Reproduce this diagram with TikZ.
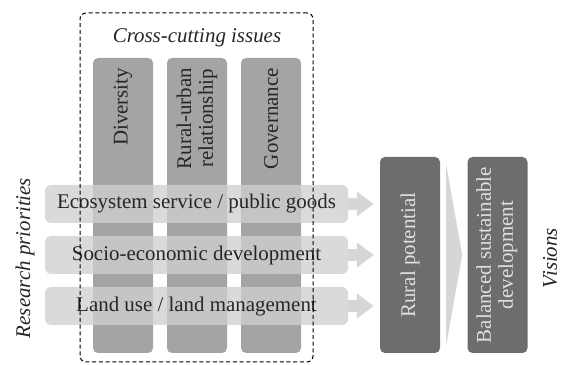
\documentclass[tikz,border=0pt]{standalone}
\usepackage{fontspec}
\setmainfont{Liberation Serif}
\usetikzlibrary{positioning,arrows.meta}
\definecolor{colgray}{RGB}{164,164,167}
\definecolor{bargray}{RGB}{207,207,209}
\definecolor{arrgray}{RGB}{214,214,216}
\definecolor{darkbox}{RGB}{109,109,112}
\definecolor{txtgray}{RGB}{38,38,38}
\tikzset{
  bigfont/.style={font=\fontsize{21}{22}\selectfont},
  crossbox/.style={draw=black,line width=1bp,dash pattern=on 4bp off 2.7bp,rounded corners=6bp,minimum width=233bp,minimum height=349bp,inner sep=0pt},
  issue/.style={fill=colgray,rounded corners=5bp,minimum width=60bp,minimum height=295bp,inner sep=0pt},
  issuetext/.style={bigfont,text=txtgray,rotate=90,anchor=east,align=center,inner sep=0pt},
  priority/.style={bigfont,fill=bargray,fill opacity=0.77,text opacity=1,text=txtgray,rounded corners=6bp,minimum width=303bp,minimum height=38bp,inner sep=0pt},
  vision/.style={bigfont,fill=darkbox,text=white!88!black,rounded corners=5bp,minimum width=60bp,minimum height=196bp,inner sep=0pt,align=center},
  sidetext/.style={bigfont,text=txtgray,rotate=90},
  flow/.style={draw=arrgray,line width=12bp,-{Triangle[width=24bp,length=17bp]}},
}
\begin{document}
\begin{tikzpicture}
\useasboundingbox (0bp,0bp) rectangle (563bp,365bp);
%%
  \node (Div) at (123bp,159.5bp) [issue] {};
  \node (RUR) at (197bp,159.5bp) [issue] {};
  \node (Gov) at (271bp,159.5bp) [issue] {};
  \node (Divtext) at ([yshift=-10bp]Div.north) [issuetext] {Diversity};
  \node (RURtext) at ([yshift=-10bp]RUR.north) [issuetext] {Rural-urban\\relationship};
  \node (Govtext) at ([yshift=-10bp]Gov.north) [issuetext] {Governance};
  \node (Eco) at (196.5bp,161bp) [priority] {Ecosystem service / public goods};
  \node (Socio) at (196.5bp,110bp) [priority] {Socio-economic development};
  \node (Land) at (196.5bp,59bp) [priority] {Land use / land management};
  \node (CCI) at (196.5bp,177.5bp) [crossbox] {};
  \node (CCItitle) at (197bp,327bp) [bigfont,text=txtgray] {\itshape Cross-cutting issues};
  \node (RP) at (410bp,110bp) [vision] {\rotatebox{90}{Rural potential}};
  \node (BSD) at (497.5bp,110bp) [vision] {\rotatebox{90}{\begin{tabular}{@{}c@{}}Balanced sustainable\\development\end{tabular}}};
  \node (ResPrio) at (25bp,107bp) [sidetext] {\itshape Research priorities};
  \node (Vis) at (550bp,107bp) [sidetext] {\itshape Visions};
  \draw [flow] (Eco.east) -- ([xshift=-6bp]RP.west |- Eco.east);
  \draw [flow] (Socio.east) -- ([xshift=-6bp]RP.west |- Socio.east);
  \draw [flow] (Land.east) -- ([xshift=-6bp]RP.west |- Land.east);
  \fill [arrgray] ([xshift=6bp,yshift=-8bp]RP.north east) -- ([xshift=22bp]RP.east) -- ([xshift=6bp,yshift=8bp]RP.south east) -- cycle;
%
\end{tikzpicture}
\end{document}
